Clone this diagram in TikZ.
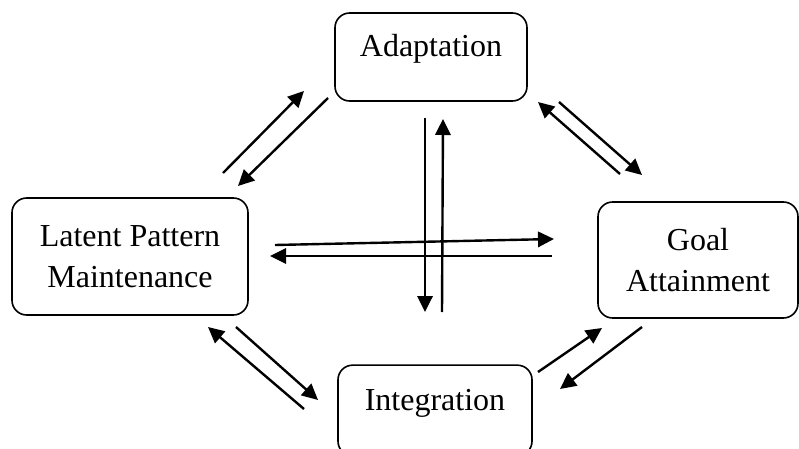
\documentclass[tikz,border=0pt]{standalone}
\usepackage{fontspec}
\setmainfont{Liberation Serif}
\usetikzlibrary{arrows.meta}
\tikzset{
	block/.style={draw, line width=1.2pt, rounded corners=11pt, inner sep=0pt, align=center, font=\fontsize{24}{31}\selectfont},
	flow/.style={line width=1.8pt, -{Triangle[length=12pt,width=11.5pt]}}
}
\begin{document}
\begin{tikzpicture}[x=0.75pt, y=-0.75pt]
	\useasboundingbox (0,0) rectangle (799,449);

	%boxes
	\node[block, minimum width=144pt, text height=33pt, text depth=33pt] (adapt) at (431,57) {Adaptation};
	\node[block, minimum width=177pt, minimum height=87.75pt] (latent) at (130,256.5) {Latent Pattern\\Maintenance};
	\node[block, minimum width=150pt, minimum height=87pt] (goal) at (698,260) {Goal\\Attainment};
	\node[block, minimum width=145.5pt, text height=34pt, text depth=34pt] (integ) at (435,410.5) {Integration};

	%ends of the arrows
	\coordinate (la1) at (223,173); \coordinate (la2) at (304,91);
	\coordinate (al1) at (328,98); \coordinate (al2) at (238,186);
	\coordinate (ag1) at (559,102); \coordinate (ag2) at (642,175);
	\coordinate (ga1) at (620,174); \coordinate (ga2) at (538,102);
	\coordinate (il1) at (304,409); \coordinate (il2) at (208,327);
	\coordinate (li1) at (236,327); \coordinate (li2) at (318,400);
	\coordinate (ig1) at (538,372); \coordinate (ig2) at (602,328);
	\coordinate (gi1) at (642,327); \coordinate (gi2) at (560,389);
	\coordinate (down1) at (425,118); \coordinate (down2) at (425,312);
	\coordinate (up1) at (442,312); \coordinate (up2) at (443,119);
	\coordinate (right1) at (275,245); \coordinate (right2) at (554,239);
	\coordinate (left1) at (552,256); \coordinate (left2) at (270,256);

	%arrows
	\draw[flow] (la1) -- (la2);
	\draw[flow] (al1) -- (al2);
	\draw[flow] (ag1) -- (ag2);
	\draw[flow] (ga1) -- (ga2);
	\draw[flow] (il1) -- (il2);
	\draw[flow] (li1) -- (li2);
	\draw[flow] (ig1) -- (ig2);
	\draw[flow] (gi1) -- (gi2);
	\draw[flow] (down1) -- (down2);
	\draw[flow] (up1) -- (up2);
	\draw[flow] (right1) -- (right2);
	\draw[flow] (left1) -- (left2);
\end{tikzpicture}
\end{document}
